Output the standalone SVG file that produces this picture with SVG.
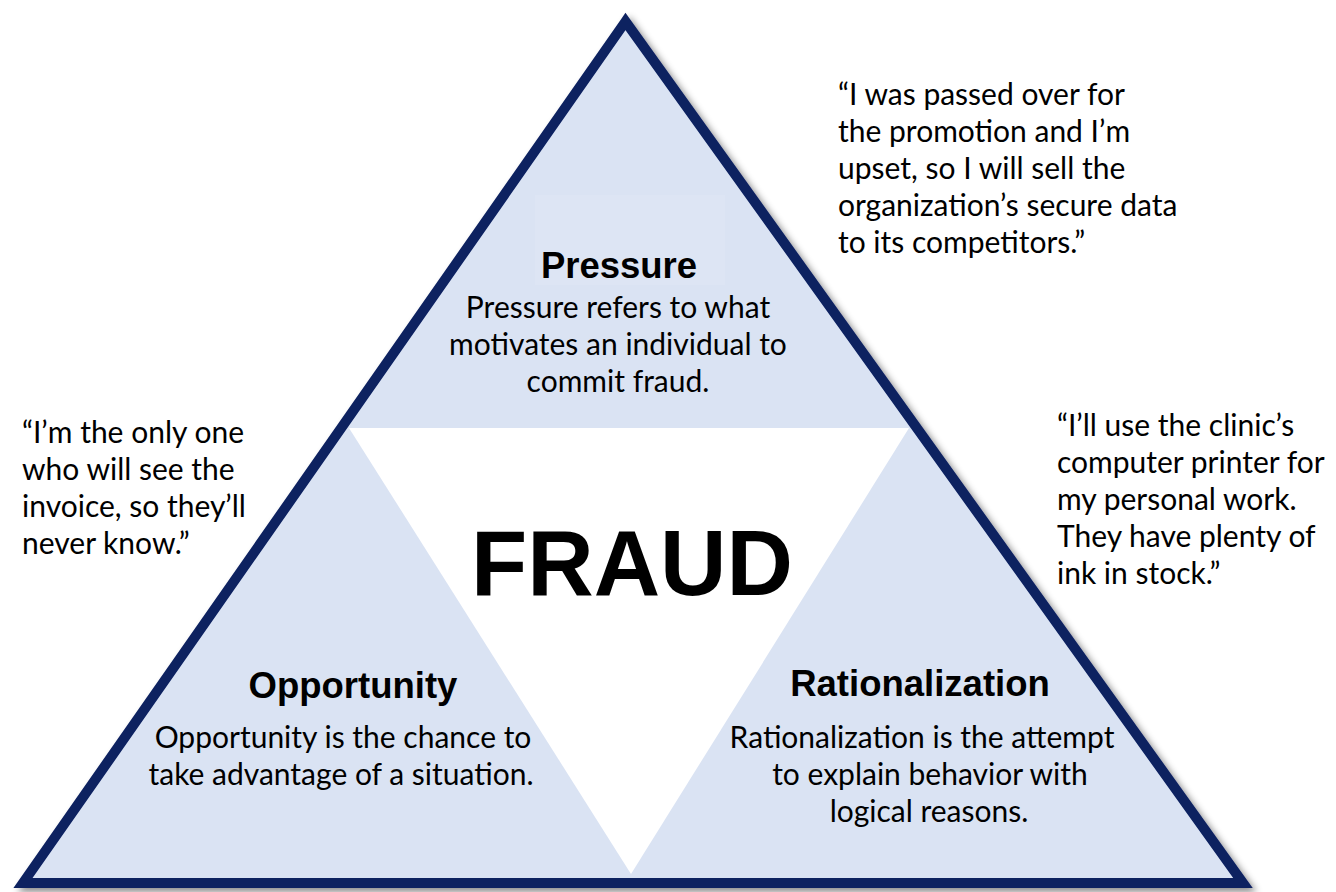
<svg xmlns="http://www.w3.org/2000/svg" width="1336" height="892" viewBox="0 0 1336 892">
<defs>
<filter id="shadow" x="-5%" y="-5%" width="110%" height="110%">
<feDropShadow dx="4" dy="4" stdDeviation="3.5" flood-color="#000" flood-opacity="0.45"/>
</filter>
</defs>
<style>
.body{font-family:Lato,"Open Sans","Liberation Sans",sans-serif;font-size:30px;fill:#000}
.title{font-family:"Liberation Sans",Arial,sans-serif;font-weight:bold;font-size:36.5px;fill:#000;text-anchor:middle}
.c{text-anchor:middle}
</style>
<rect width="1336" height="892" fill="#ffffff"/>
<g id="triangle">
<polygon points="625.5,21.5 23,883 1243,883" fill="#dae3f3" stroke="#0b2060" stroke-width="10" stroke-linejoin="miter" filter="url(#shadow)"/>
<rect x="535" y="195" width="190" height="90" fill="#dde5f4"/>
<polygon points="349,428 909,428 631,874" fill="#ffffff"/>
</g>
<g id="pressure">
<text class="title" x="619" y="278">Pressure</text>
<text class="body c" x="618" y="318">Pressure refers to what</text>
<text class="body c" x="618" y="355">motivates an individual to</text>
<text class="body c" x="618" y="392">commit fraud.</text>
</g>
<g id="fraud">
<text x="632" y="595" font-family="'Liberation Sans',Arial,sans-serif" font-weight="bold" font-size="92" text-anchor="middle">FRAUD</text>
</g>
<g id="opportunity">
<text class="title" x="353" y="698">Opportunity</text>
<text class="body c" x="343" y="748">Opportunity is the chance to</text>
<text class="body c" x="341" y="785">take advantage of a situation.</text>
</g>
<g id="rationalization">
<text class="title" x="920" y="696">Rationalization</text>
<text class="body c" x="922" y="748">Rationalization is the attempt</text>
<text class="body c" x="930" y="785">to explain behavior with</text>
<text class="body c" x="929" y="822">logical reasons.</text>
</g>
<g id="quote-pressure">
<text class="body" x="838" y="105">“I was passed over for</text>
<text class="body" x="838" y="142">the promotion and I’m</text>
<text class="body" x="838" y="179">upset, so I will sell the</text>
<text class="body" x="838" y="216">organization’s secure data</text>
<text class="body" x="838" y="253">to its competitors.”</text>
</g>
<g id="quote-opportunity">
<text class="body" x="22" y="443">“I’m the only one</text>
<text class="body" x="22" y="480">who will see the</text>
<text class="body" x="22" y="517">invoice, so they’ll</text>
<text class="body" x="22" y="554">never know.”</text>
</g>
<g id="quote-rationalization">
<text class="body" x="1057" y="436">“I’ll use the clinic’s</text>
<text class="body" x="1057" y="473">computer printer for</text>
<text class="body" x="1057" y="510">my personal work.</text>
<text class="body" x="1057" y="547">They have plenty of</text>
<text class="body" x="1057" y="584">ink in stock.”</text>
</g>
</svg>
